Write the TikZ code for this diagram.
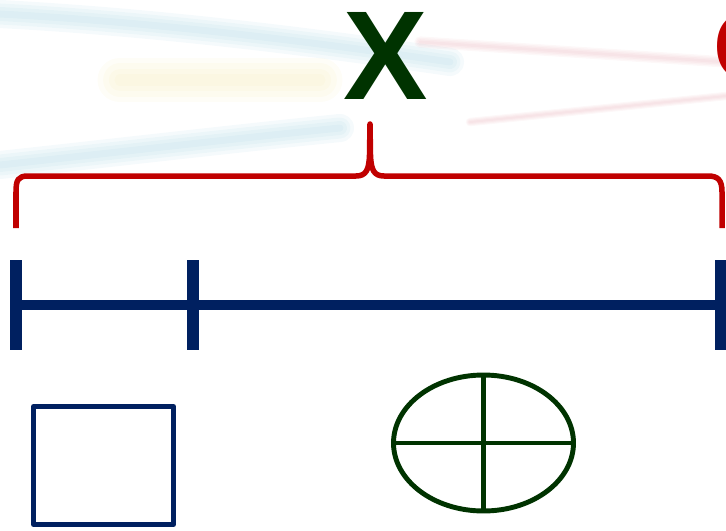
\documentclass[tikz,border=0pt]{standalone}
\usepackage{fontspec}
\newfontfamily\slidefont{Liberation Sans}
\usetikzlibrary{arrows.meta}
\newcommand{\PX}{0.03}
\definecolor{slnavy}{RGB}{0,32,96}
\definecolor{slgreen}{RGB}{0,51,0}
\definecolor{slred}{RGB}{192,0,0}
\definecolor{sltealbg}{RGB}{120,190,210}
\definecolor{slyellowbg}{RGB}{240,225,140}
\definecolor{slpinkbg}{RGB}{225,150,160}

\begin{document}
\begin{tikzpicture}[
    x=\PX cm, y=-\PX cm,
    streak/.style={line cap=round, opacity=0.07},
    bracket/.style={draw=slred, line width=4.7pt, line join=round},
    axisline/.style={draw=slnavy, line width=8.6pt},
    tick/.style={draw=slnavy, line width=10pt},
    symbol/.style={line width=4.2pt, line join=round},
    letter/.style={inner sep=0pt, font=\slidefont\bfseries},
  ]
  \useasboundingbox (0,0) rectangle (726,530);

  %% ================= faded slide background (soft streaks) =================
  \foreach \w in {6,12,18,24} {
    \draw[streak, sltealbg, line width=\w pt] (0,14) .. controls (150,22) and (300,40) .. (450,62);
    \draw[streak, sltealbg, line width=\w pt] (0,165) .. controls (120,152) and (240,138) .. (340,128);
    \draw[streak, slyellowbg, line width=1.6*\w pt] (120,80) -- (320,80);
    \draw[streak, slpinkbg, line width=0.4*\w pt] (420,42) -- (726,62);
    \draw[streak, slpinkbg, line width=0.3*\w pt] (470,122) -- (726,96);
  }

  %% ================= the two headings =================
  \node[letter, text=slgreen, anchor=north] (xhead) at (385.5,12)
    {\fontsize{108pt}{110pt}\selectfont X};
  \node[letter, text=slred, anchor=north west] (chead) at (713,12)
    {\fontsize{83pt}{86pt}\selectfont C};

  %% ================= the brace under X =================
  \draw[bracket] (16,228) -- (16,192) .. controls (16,180) and (18,176) .. (28,176)
    -- (356,176) .. controls (366,176) and (369,170) .. (369.5,155) -- (370,124)
    -- (370.5,155) .. controls (371,170) and (374,176) .. (384,176)
    -- (708,176) .. controls (718,176) and (722,180) .. (722,192) -- (722,228);

  %% ================= the segment with its ticks =================
  \draw[axisline] (16,305) -- (726,305);
  \foreach \x in {16,193,721} { \draw[tick] (\x,260) -- (\x,350); }

  %% ================= square and crossed ellipse =================
  \draw[symbol, slnavy] (33.5,406.5) rectangle (173.5,524.5);
  \draw[symbol, slgreen] (483.5,443) ellipse (90 and 68);
  \draw[symbol, slgreen] (483.5,375) -- (483.5,511);
  \draw[symbol, slgreen] (393.5,443) -- (573.5,443);
\end{tikzpicture}
\end{document}
